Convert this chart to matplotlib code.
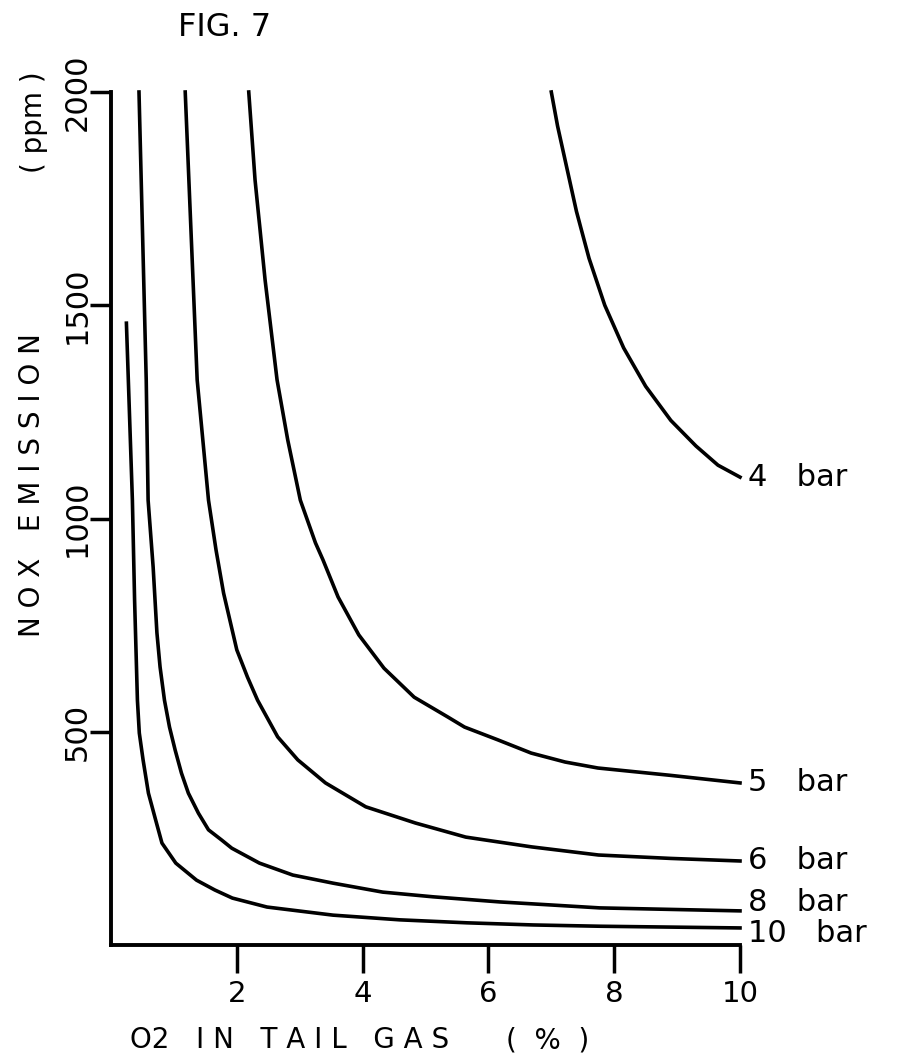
import matplotlib.pyplot as plt

# NOx emission vs O2 in tail gas, one curve per absorber pressure
pressure_labels = ["4   bar", "5   bar", "6   bar", "8   bar", "10   bar"]

o2_4bar = [7.0, 7.1, 7.25, 7.4, 7.6, 7.85, 8.15, 8.5, 8.9, 9.3, 9.65, 10.0]
nox_4bar = [2000, 1920, 1820, 1720, 1610, 1500, 1400, 1310, 1230, 1170, 1125, 1097]

o2_5bar = [2.19, 2.29, 2.45, 2.64, 2.81, 3.01, 3.25, 3.37, 3.61, 3.94, 4.34, 4.82,
           5.35, 5.62, 6.15, 6.68, 7.22, 7.74, 8.88, 10.0]
nox_5bar = [2000, 1794, 1559, 1325, 1184, 1043, 943, 903, 816, 727, 649, 581,
            535, 511, 481, 450, 429, 415, 398, 380]

o2_6bar = [1.18, 1.37, 1.55, 1.67, 1.79, 2.0, 2.17, 2.33, 2.65, 2.97, 3.41, 4.05, 4.84, 5.64,
           6.69, 7.75, 8.9, 10.0]
nox_6bar = [2000, 1325, 1043, 926, 825, 692, 628, 574, 488, 434, 380, 324, 286, 253,
            230, 211, 203, 197]

o2_8bar = [0.445, 0.56, 0.59, 0.67, 0.73, 0.78, 0.85, 0.93, 1.02, 1.12, 1.23, 1.39, 1.55, 1.76,
           1.92, 2.36, 2.89, 3.53, 4.32, 5.12, 6.18, 6.98, 7.77, 10.0]
nox_8bar = [2000, 1325, 1043, 886, 732, 652, 574, 511, 457, 403, 356, 309, 270, 246,
            227, 192, 164, 145, 124, 113, 101, 94, 87, 80]

o2_10bar = [0.245, 0.34, 0.375, 0.42, 0.45, 0.51, 0.595, 0.71, 0.81, 1.03, 1.36, 1.65, 1.93, 2.48,
            3.53, 4.59, 5.66, 6.71, 7.77, 10.0]
nox_10bar = [1458, 1043, 809, 574, 497, 434, 356, 293, 239, 192, 152, 129, 110, 89,
             70, 59, 52, 47, 44, 40]

x_ticks = [2, 4, 6, 8, 10]
y_ticks = [500, 1000, 1500, 2000]

curves = [(o2_4bar, nox_4bar), (o2_5bar, nox_5bar), (o2_6bar, nox_6bar),
          (o2_8bar, nox_8bar), (o2_10bar, nox_10bar)]
# small vertical nudges (points) so the bottom labels don't collide
label_nudge = [0, 0, 0, 6, -4]

W, H = 906, 1059
fig = plt.figure(figsize=(W / 100, H / 100), dpi=100)
ax = fig.add_axes([111 / W, 1 - 945 / H, (740 - 111) / W, (945 - 92) / H])
ax.set_xlim(0, 10)
ax.set_ylim(0, 2000)

for side in ["top", "right"]:
    ax.spines[side].set_visible(False)
for side in ["left", "bottom"]:
    ax.spines[side].set_linewidth(2.8)

ax.set_xticks(x_ticks)
ax.set_xticklabels([str(t) for t in x_ticks])
ax.set_yticks(y_ticks)
ax.set_yticklabels([str(t) for t in y_ticks], rotation=90, va="center")
ax.tick_params(axis="x", direction="out", length=20, width=2.5, pad=5, labelsize=21)
ax.tick_params(axis="y", direction="out", length=15, width=2.5, pad=-1, labelsize=22)

for (xs, ys), label, nudge in zip(curves, pressure_labels, label_nudge):
    ax.plot(xs, ys, color="black", lw=2.6, clip_on=False, solid_joinstyle="round")
    ax.annotate(label, xy=(xs[-1], ys[-1]), xytext=(6, nudge), textcoords="offset points",
                ha="left", va="center", fontsize=22, annotation_clip=False)

fig.text(225 / W, 1 - 28 / H, "FIG. 7", ha="center", va="center", fontsize=23)
fig.text(32 / W, 1 - 485 / H, "N O X   E M I S S I O N", rotation=90,
         ha="center", va="center", fontsize=20)
fig.text(34 / W, 1 - 122 / H, "( ppm )", rotation=90, ha="center", va="center", fontsize=20)
fig.text(130 / W, 1 - 1040 / H, "O2   I N   T A I L   G A S", ha="left", va="center", fontsize=20)
fig.text(548 / W, 1 - 1040 / H, "(  %  )", ha="center", va="center", fontsize=20)

fig.savefig("out.png", dpi=100, facecolor="white")
